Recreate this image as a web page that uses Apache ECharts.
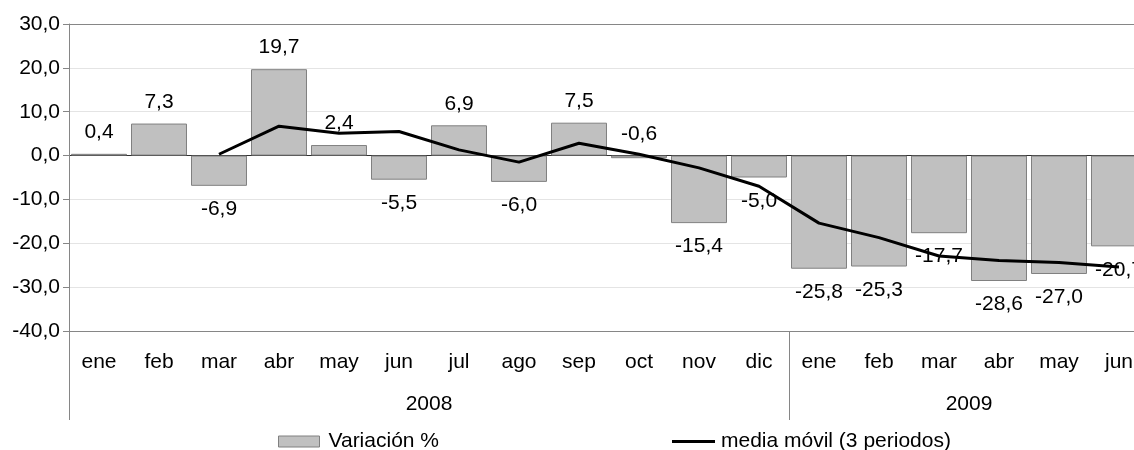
<!DOCTYPE html>
<html>
<head>
<meta charset="utf-8">
<script src="https://cdn.jsdelivr.net/npm/echarts@6/dist/echarts.min.js"></script>
<style>
html,body{margin:0;padding:0;background:#fff;overflow:hidden;width:1134px;height:450px;}
#c{width:1160px;height:450px;}
</style>
</head>
<body>
<div id="c"></div>
<script>
var months = ['ene','feb','mar','abr','may','jun','jul','ago','sep','oct','nov','dic','ene','feb','mar','abr','may','jun'];
var years = ['2008','2009'];
var variacion = [0.4, 7.3, -6.9, 19.7, 2.4, -5.5, 6.9, -6.0, 7.5, -0.6, -15.4, -5.0, -25.8, -25.3, -17.7, -28.6, -27.0, -20.7];
var mediaMovil = [null, null, 0.3, 6.7, 5.1, 5.5, 1.3, -1.5, 2.8, 0.3, -2.8, -7.0, -15.4, -18.7, -22.9, -23.9, -24.4, -25.4];
var labelAboveIdx = [9];
var yTicks = [-40, -30, -20, -10, 0, 10, 20, 30];

var FONT = 'Liberation Sans, Arial, sans-serif';
var FS = 21;
function fmt(v){ return Number(v).toFixed(1).replace('.', ','); }

var barData = variacion.map(function(v, i){
  var above = (v >= 0 || labelAboveIdx.indexOf(i) >= 0);
  return {value: v, label: {position: above ? 'top' : 'bottom', distance: above ? 11 : 13}};
});

var chart = echarts.init(document.getElementById('c'), null, {renderer: 'canvas', width: 1160, height: 450});
chart.setOption({
  animation: false,
  backgroundColor: '#ffffff',
  textStyle: {fontFamily: FONT},
  grid: {left: 69, top: 24, width: 1080, height: 307, containLabel: false},
  legend: [
    {data: [{name: 'Variación %', icon: 'rect'}], left: 273, top: 426, itemWidth: 41, itemHeight: 11,
     itemStyle: {color: '#c0c0c0', borderColor: '#808080', borderWidth: 1},
     textStyle: {fontSize: FS, color: '#000', fontFamily: FONT, padding: [0, 0, 0, 4]}},
    {data: [{name: 'media móvil (3 periodos)', icon: 'rect'}], left: 667, top: 426, itemWidth: 43, itemHeight: 3,
     itemStyle: {color: '#000', borderWidth: 0},
     textStyle: {fontSize: FS, color: '#000', fontFamily: FONT, padding: [0, 0, 0, 1]}}
  ],
  xAxis: [
    {type: 'category', data: months, position: 'bottom',
     axisLine: {show: true, onZero: false, lineStyle: {color: '#868686', width: 1}},
     axisTick: {show: true, length: 89, interval: function(i){ return i === 0 || i === 12; },
                lineStyle: {color: '#868686', width: 1}},
     axisLabel: {interval: 0, margin: 21, fontSize: FS, color: '#000', fontFamily: FONT},
     splitLine: {show: false}},
    {type: 'value', min: 0, max: 18, interval: 3, position: 'bottom',
     axisLine: {show: false}, axisTick: {show: false}, splitLine: {show: false},
     axisLabel: {margin: 63, fontSize: FS, color: '#000', fontFamily: FONT, showMinLabel: true, showMaxLabel: true,
       formatter: function(v){ if (v === 6) return years[0]; if (v === 15) return years[1]; return ''; }}}
  ],
  yAxis: {
    type: 'value', min: yTicks[0], max: yTicks[yTicks.length - 1], interval: 10,
    axisLine: {show: true, lineStyle: {color: '#868686', width: 1}},
    axisTick: {show: true, inside: false, length: 6, lineStyle: {color: '#868686'}},
    axisLabel: {fontSize: FS, color: '#000', margin: 9, fontFamily: FONT, formatter: fmt},
    splitLine: {show: true, lineStyle: {width: 1,
      color: ['#868686', '#e4e4e4', '#e4e4e4', '#e4e4e4', '#303030', '#e4e4e4', '#e4e4e4', '#868686']}}
  },
  series: [
    {name: 'Variación %', type: 'bar', xAxisIndex: 0, data: barData, barCategoryGap: '6.7%',
     itemStyle: {color: '#c0c0c0', borderColor: '#808080', borderWidth: 1},
     label: {show: true, fontSize: FS, color: '#000', fontFamily: FONT,
             formatter: function(p){ return fmt(p.value); }},
     z: 2},
    {name: 'media móvil (3 periodos)', type: 'line', xAxisIndex: 0, data: mediaMovil,
     symbol: 'none', showSymbol: false, connectNulls: false,
     lineStyle: {color: '#000', width: 3}, itemStyle: {color: '#000'}, z: 3}
  ]
});
</script>
</body>
</html>
